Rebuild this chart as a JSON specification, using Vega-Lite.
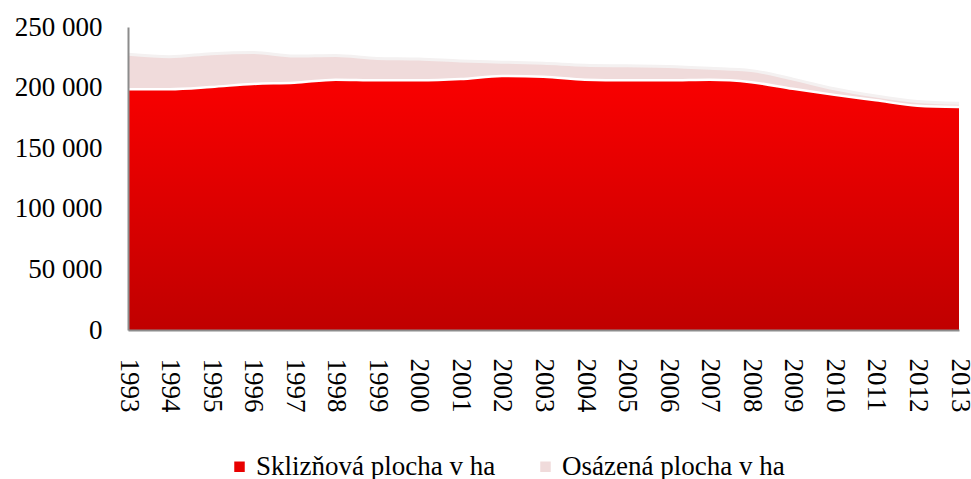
{
  "$schema": "https://vega.github.io/schema/vega-lite/v6.json",
  "width": 831,
  "height": 303,
  "autosize": {"type": "none"},
  "padding": {"left": 128, "top": 27, "right": 12, "bottom": 149},
  "background": "white",
  "config": {
    "view": {"stroke": null},
    "font": "Liberation Serif",
    "locale": {"number": {"decimal": ",", "thousands": " ", "grouping": [3], "currency": ["", " Kč"]}}
  },
  "data": {
    "values": [
      {"year": "1993", "series": "Osázená plocha v ha", "value": 227500},
      {"year": "1994", "series": "Osázená plocha v ha", "value": 225500},
      {"year": "1995", "series": "Osázená plocha v ha", "value": 228000},
      {"year": "1996", "series": "Osázená plocha v ha", "value": 229000},
      {"year": "1997", "series": "Osázená plocha v ha", "value": 226000},
      {"year": "1998", "series": "Osázená plocha v ha", "value": 226500},
      {"year": "1999", "series": "Osázená plocha v ha", "value": 224000},
      {"year": "2000", "series": "Osázená plocha v ha", "value": 223500},
      {"year": "2001", "series": "Osázená plocha v ha", "value": 222000},
      {"year": "2002", "series": "Osázená plocha v ha", "value": 221000},
      {"year": "2003", "series": "Osázená plocha v ha", "value": 220000},
      {"year": "2004", "series": "Osázená plocha v ha", "value": 218500},
      {"year": "2005", "series": "Osázená plocha v ha", "value": 218000},
      {"year": "2006", "series": "Osázená plocha v ha", "value": 217500},
      {"year": "2007", "series": "Osázená plocha v ha", "value": 216000},
      {"year": "2008", "series": "Osázená plocha v ha", "value": 214000},
      {"year": "2009", "series": "Osázená plocha v ha", "value": 207000},
      {"year": "2010", "series": "Osázená plocha v ha", "value": 199000},
      {"year": "2011", "series": "Osázená plocha v ha", "value": 193000},
      {"year": "2012", "series": "Osázená plocha v ha", "value": 188500},
      {"year": "2013", "series": "Osázená plocha v ha", "value": 187000},
      {"year": "1993", "series": "Sklizňová plocha v ha", "value": 198700},
      {"year": "1994", "series": "Sklizňová plocha v ha", "value": 198700},
      {"year": "1995", "series": "Sklizňová plocha v ha", "value": 200500},
      {"year": "1996", "series": "Sklizňová plocha v ha", "value": 203000},
      {"year": "1997", "series": "Sklizňová plocha v ha", "value": 204000},
      {"year": "1998", "series": "Sklizňová plocha v ha", "value": 206500},
      {"year": "1999", "series": "Sklizňová plocha v ha", "value": 206000},
      {"year": "2000", "series": "Sklizňová plocha v ha", "value": 206000},
      {"year": "2001", "series": "Sklizňová plocha v ha", "value": 207000},
      {"year": "2002", "series": "Sklizňová plocha v ha", "value": 209500},
      {"year": "2003", "series": "Sklizňová plocha v ha", "value": 209000},
      {"year": "2004", "series": "Sklizňová plocha v ha", "value": 206500},
      {"year": "2005", "series": "Sklizňová plocha v ha", "value": 206000},
      {"year": "2006", "series": "Sklizňová plocha v ha", "value": 206000},
      {"year": "2007", "series": "Sklizňová plocha v ha", "value": 206500},
      {"year": "2008", "series": "Sklizňová plocha v ha", "value": 204500},
      {"year": "2009", "series": "Sklizňová plocha v ha", "value": 199000},
      {"year": "2010", "series": "Sklizňová plocha v ha", "value": 194000},
      {"year": "2011", "series": "Sklizňová plocha v ha", "value": 189500},
      {"year": "2012", "series": "Sklizňová plocha v ha", "value": 185000},
      {"year": "2013", "series": "Sklizňová plocha v ha", "value": 184000}
    ]
  },
  "encoding": {
    "x": {
      "field": "year",
      "type": "ordinal",
      "scale": {"type": "point", "padding": 0},
      "axis": {
        "title": null,
        "labelAngle": 90,
        "ticks": false,
        "tickSize": 0,
        "labelPadding": 28,
        "labelFontSize": 27,
        "labelFont": "Liberation Serif",
        "labelColor": "#000000",
        "labelOverlap": false,
        "domainColor": "#8c8c8c",
        "domainWidth": 2,
        "grid": false,
        "zindex": 1
      }
    },
    "y": {
      "field": "value",
      "type": "quantitative",
      "scale": {"domain": [0, 250000], "nice": false},
      "axis": {
        "title": null,
        "values": [0, 50000, 100000, 150000, 200000, 250000],
        "format": ",d",
        "ticks": false,
        "tickSize": 0,
        "labelPadding": 26,
        "labelFontSize": 27,
        "labelFont": "Liberation Serif",
        "labelColor": "#000000",
        "labelOverlap": false,
        "domainColor": "#8c8c8c",
        "domainWidth": 2,
        "grid": false,
        "zindex": 1
      }
    }
  },
  "layer": [
    {
      "transform": [{"filter": "datum.series === 'Osázená plocha v ha'"}],
      "mark": {"type": "area", "interpolate": "monotone"},
      "encoding": {
        "color": {
          "field": "series",
          "type": "nominal",
          "scale": {
            "domain": ["Sklizňová plocha v ha", "Osázená plocha v ha"],
            "range": ["#E80000", "#F0DBDB"]
          },
          "legend": {
            "orient": "none",
            "legendX": 98,
            "legendY": 426,
            "direction": "horizontal",
            "title": null,
            "padding": 0,
            "symbolType": "square",
            "symbolSize": 110,
            "symbolStrokeWidth": 0,
            "symbolOpacity": 1,
            "labelFontSize": 27,
            "labelFont": "Liberation Serif",
            "labelColor": "#000000",
            "labelOffset": 3,
            "labelLimit": 0,
            "columnPadding": 36
          }
        }
      }
    },
    {
      "transform": [{"filter": "datum.series === 'Osázená plocha v ha'"}],
      "mark": {"type": "line", "interpolate": "monotone", "color": "#F4F1F1", "strokeWidth": 3},
      "encoding": {}
    },
    {
      "transform": [{"filter": "datum.series === 'Sklizňová plocha v ha'"}],
      "mark": {
        "type": "area",
        "interpolate": "monotone",
        "opacity": 1,
        "fill": {"gradient": "linear", "x1": 0, "y1": 0, "x2": 0, "y2": 1, "stops": [{"offset": 0, "color": "#FA0000"}, {"offset": 1, "color": "#C00000"}]}
      },
      "encoding": {}
    },
    {
      "transform": [{"filter": "datum.series === 'Sklizňová plocha v ha'"}],
      "mark": {"type": "line", "interpolate": "monotone", "color": "#FFFFFF", "strokeWidth": 2.5},
      "encoding": {}
    }
  ]
}
